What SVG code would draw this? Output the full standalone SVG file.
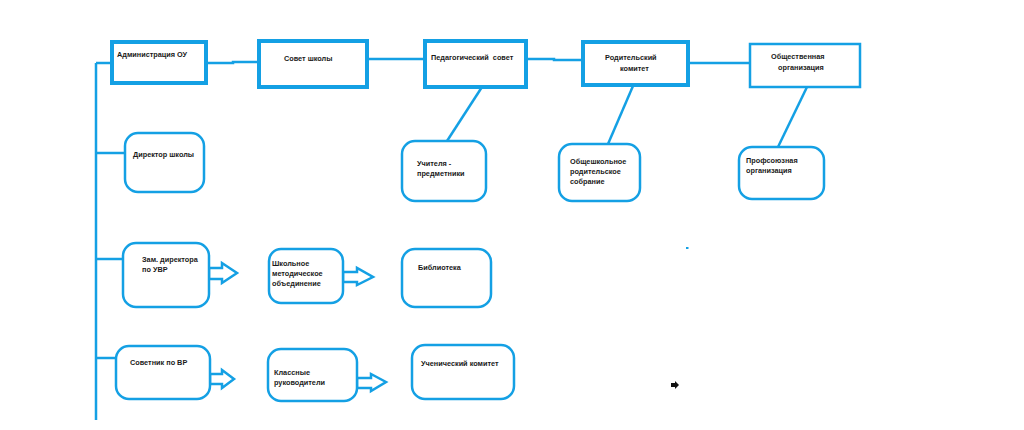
<svg xmlns="http://www.w3.org/2000/svg" width="1024" height="430" viewBox="0 0 1024 430">
<style>
.bx{fill:#fff;stroke:#14a0e4;stroke-width:4}
.bt{fill:#fff;stroke:#14a0e4;stroke-width:2.5}
.rb{fill:#fff;stroke:#14a0e4;stroke-width:2.5}
.ln{fill:none;stroke:#14a0e4;stroke-width:2.5}
.ar{fill:#fff;stroke:#14a0e4;stroke-width:2.5;stroke-linejoin:miter}
text{font-family:"Liberation Sans",Arial,sans-serif;font-weight:bold;font-size:7.3px;fill:#1a1a1a;white-space:pre}
</style>
<rect width="1024" height="430" fill="#fff"/>
<g id="connectors">
<path class="ln" d="M96,63 V420"/>
<path class="ln" d="M96,63 H112"/>
<path class="ln" d="M96,153 H125"/>
<path class="ln" d="M96,259 H123"/>
<path class="ln" d="M96,358 H116"/>
<path class="ln" d="M206,63 H233 V62 H259"/>
<path class="ln" d="M367,59 H425"/>
<path class="ln" d="M526,59 H554 V60 H583"/>
<path class="ln" d="M688,63 H750"/>
<path class="ln" d="M482,87 L447,141"/>
<path class="ln" d="M633,86 L608,144"/>
<path class="ln" d="M807,87 L778,147"/>
<polygon class="ar" points="209,268 222,268 222,263 237,273 222,283 222,279 209,279"/>
<polygon class="ar" points="343,272 357,272 357,268 373,277 357,285 357,282 343,282"/>
<polygon class="ar" points="210,374 222,374 222,370 234,379 222,388 222,384 210,384"/>
<polygon class="ar" points="357,378 371,378 371,374 386,382 371,391 371,388 357,388"/>
</g>
<g id="n1"><rect class="bx" x="112" y="42" width="94" height="41"/><text x="117" y="57">Администрация ОУ</text></g>
<g id="n2"><rect class="bx" x="259" y="41" width="108" height="46"/><text x="284" y="61">Совет школы</text></g>
<g id="n3"><rect class="bx" x="425" y="41" width="101" height="46"/><text x="431" y="60" xml:space="preserve">Педагогический  совет</text></g>
<g id="n4"><rect class="bx" x="583" y="42" width="105" height="43"/><text x="605" y="60">Родительский</text><text x="620" y="71">комитет</text></g>
<g id="n5"><rect class="bt" x="750" y="44" width="110" height="43"/><text x="771" y="59">Общественная</text><text x="778" y="70">организация</text></g>
<g id="n6"><rect class="rb" x="125" y="133" width="79" height="59" rx="13"/><text x="133" y="157">Директор школы</text></g>
<g id="n7"><rect class="rb" x="402" y="141" width="84" height="60" rx="13"/><text x="417" y="166">Учителя -</text><text x="417" y="176">предметники</text></g>
<g id="n8"><rect class="rb" x="559" y="144" width="81" height="57" rx="13"/><text x="570" y="164">Общешкольное</text><text x="570" y="174">родительское</text><text x="570" y="184">собрание</text></g>
<g id="n9"><rect class="rb" x="739" y="147" width="85" height="52" rx="13"/><text x="746" y="163">Профсоюзная</text><text x="746" y="173">организация</text></g>
<g id="n10"><rect class="rb" x="123" y="243" width="86" height="64" rx="13"/><text x="142" y="262">Зам. директора</text><text x="142" y="272">по УВР</text></g>
<g id="n11"><rect class="rb" x="269" y="249" width="74" height="54" rx="12"/><text x="272" y="266">Школьное</text><text x="272" y="276">методическое</text><text x="272" y="286">объединение</text></g>
<g id="n12"><rect class="rb" x="402" y="249" width="89" height="58" rx="13"/><text x="418" y="270">Библиотека</text></g>
<g id="n13"><rect class="rb" x="116" y="346" width="94" height="53" rx="13"/><text x="130" y="365">Советник по ВР</text></g>
<g id="n14"><rect class="rb" x="268" y="349" width="89" height="52" rx="13"/><text x="274" y="375">Классные</text><text x="274" y="385">руководители</text></g>
<g id="n15"><rect class="rb" x="412" y="345" width="102" height="54" rx="13"/><text x="421" y="366">Ученический комитет</text></g>
<rect x="686" y="247" width="2.5" height="2" fill="#14a0e4"/>
<polygon points="671,383 675,383 675,381 679,385 675,389 675,387 671,387" fill="#111"/>
</svg>
